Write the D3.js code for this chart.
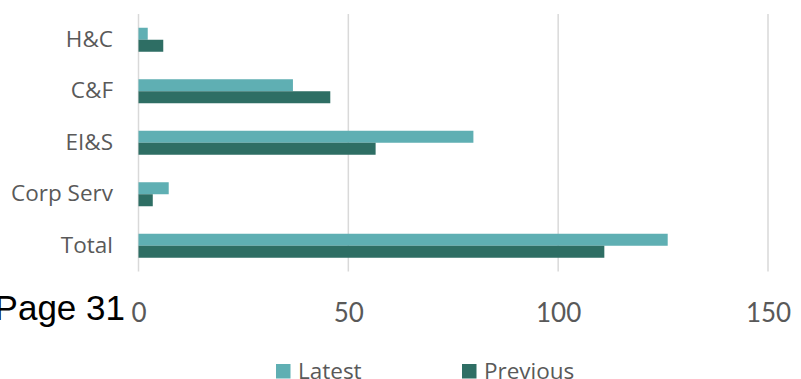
<!DOCTYPE html>
<html>
<head>
<meta charset="utf-8">
<script src="https://cdn.jsdelivr.net/npm/d3@7"></script>
<style>
  body { margin: 0; background: #fff; }
</style>
</head>
<body>
<script>
var categories = ['H&C', 'C&F', 'EI&S', 'Corp Serv', 'Total'];
var seriesNames = ['Latest', 'Previous'];
var latest = [2.2, 36.8, 79.8, 7.2, 126.1];
var previous = [5.9, 45.7, 56.5, 3.4, 111.0];
var xTicks = [0, 50, 100, 150];
var colors = ['#5fafb3', '#2e6e64'];

var width = 801, height = 379;
var plotLeft = 138.5, plotRight = 768, plotTop = 14, plotBottom = 271.5;
var labelFont = '"Open Sans", Lato, sans-serif';
var numberFont = 'Lato, "Open Sans", sans-serif';

var svg = d3.select('body').append('svg')
    .attr('width', width)
    .attr('height', height);

var x = d3.scaleLinear().domain([0, 150]).range([plotLeft, plotRight]);
var y = d3.scaleBand().domain(categories).range([plotTop, plotBottom])
    .paddingInner(0.534).paddingOuter(0.267);
var ySub = d3.scaleBand().domain(seriesNames).range([0, y.bandwidth()]);

// gridlines
svg.append('g').selectAll('line')
    .data(xTicks)
    .enter().append('line')
    .attr('x1', function (d) { return x(d); })
    .attr('x2', function (d) { return x(d); })
    .attr('y1', plotTop)
    .attr('y2', plotBottom)
    .attr('stroke', '#d9d9d9')
    .attr('stroke-width', 1.5);

var rows = categories.map(function (c, i) {
    return { cat: c, values: [latest[i], previous[i]] };
});

var groups = svg.append('g').selectAll('g')
    .data(rows)
    .enter().append('g')
    .attr('transform', function (d) { return 'translate(0,' + y(d.cat) + ')'; });

groups.selectAll('rect')
    .data(function (d) { return d.values; })
    .enter().append('rect')
    .attr('x', x(0))
    .attr('y', function (d, i) { return ySub(seriesNames[i]); })
    .attr('width', function (d) { return x(d) - x(0); })
    .attr('height', ySub.bandwidth())
    .attr('fill', function (d, i) { return colors[i]; });

// y axis labels
var yAxis = d3.axisLeft(y).tickSize(0).tickPadding(25.5);
svg.append('g')
    .attr('transform', 'translate(' + plotLeft + ',0)')
    .call(yAxis)
    .call(function (g) {
        g.select('.domain').remove();
        g.selectAll('text')
            .attr('font-size', 22.5)
            .attr('fill', '#595959')
            .attr('font-family', labelFont);
    });

// x axis labels
var xAxis = d3.axisBottom(x).tickValues(xTicks).tickSize(0).tickPadding(32);
svg.append('g')
    .attr('transform', 'translate(0,' + plotBottom + ')')
    .call(xAxis)
    .call(function (g) {
        g.select('.domain').remove();
        g.selectAll('text')
            .attr('font-size', 26)
            .attr('fill', '#595959')
            .attr('font-family', numberFont);
    });

// legend
var legendX = [276, 462];
var legend = svg.append('g').selectAll('g')
    .data(seriesNames)
    .enter().append('g')
    .attr('transform', function (d, i) { return 'translate(' + legendX[i] + ',364)'; });
legend.append('rect')
    .attr('width', 14.5)
    .attr('height', 14.5)
    .attr('fill', function (d, i) { return colors[i]; });
legend.append('text')
    .attr('x', 22)
    .attr('y', 14.5)
    .attr('font-size', 22.5)
    .attr('font-family', labelFont)
    .attr('fill', '#595959')
    .text(function (d) { return d; });

// stray page label
svg.append('text')
    .attr('x', 125)
    .attr('y', 319.5)
    .attr('text-anchor', 'end')
    .attr('font-family', '"Liberation Sans", Arial, sans-serif')
    .attr('font-size', 35)
    .attr('fill', '#000')
    .text('Page 31');
</script>
</body>
</html>
